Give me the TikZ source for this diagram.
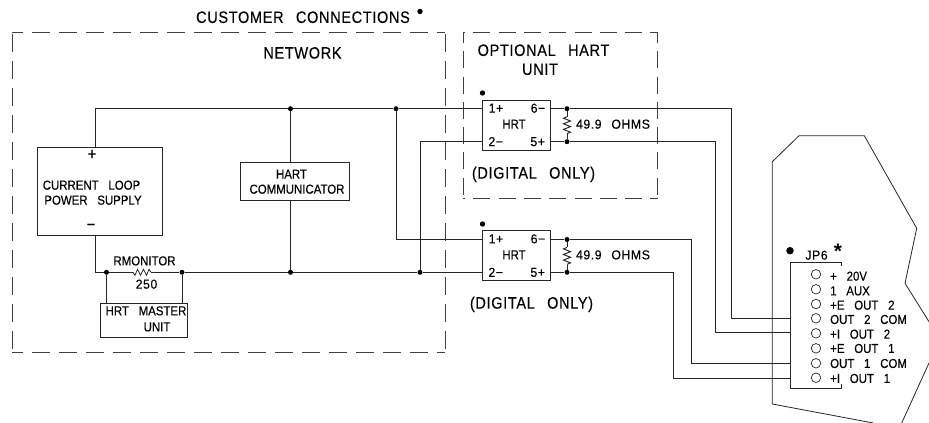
\documentclass[tikz,border=0pt]{standalone}
\usepackage{fontspec}
\setmainfont[FakeStretch=0.88,FakeBold=0.35]{Liberation Sans}
\newfontfamily\bigfont[FakeStretch=0.88,LetterSpace=4,FakeBold=0.25]{Liberation Sans}
\newfontfamily\widefont[FakeStretch=0.95,LetterSpace=4,FakeBold=0.35]{Liberation Sans}
\newfontfamily\starfont{Liberation Sans Bold}
\newcommand{\wsp}{\hspace{0.75em}}
\tikzset{
  x=1pt,y=-1pt,
  wire/.style={line width=0.95pt,draw=black!85},
  dashA/.style={line width=0.95pt,draw=black!75,dash pattern=on 18pt off 9pt},
  dashB/.style={line width=0.95pt,draw=black!75,dash pattern=on 17pt off 8.3pt},
  box/.style={draw=black!85,line width=0.95pt,inner sep=0pt,rectangle},
  lab/.style={inner sep=0pt,text depth=0pt,text height=9.3pt,font=\fontsize{13}{13}\selectfont,text=black},
  widelab/.style={lab,font=\widefont\fontsize{13}{13}\selectfont},
  signlab/.style={lab,font=\fontsize{17}{17}\selectfont},
  biglab/.style={inner sep=0pt,text depth=0pt,text height=11.8pt,font=\bigfont\fontsize{16.5}{16.5}\selectfont,text=black},
  jlab/.style={lab,anchor=west},
  starlab/.style={inner sep=0pt,font=\starfont\fontsize{21}{21}\selectfont,text=black},
  junction/.style={circle,fill=black,inner sep=0pt,minimum size=5pt},
  bigdot/.style={circle,fill=black,inner sep=0pt,minimum size=5.4pt},
  pin/.style={circle,draw=black!85,line width=0.7pt,inner sep=0pt,minimum size=9.5pt},
  resv/.pic={\draw[wire] (0,-8.5)--(-3.5,-7)--(3.5,-4.2)--(-3.5,-1.4)--(3.5,1.4)--(-3.5,4.2)--(3.5,7)--(0,8.5);},
  resh/.pic={\draw[wire,line width=0.8pt] (-9,0)--(-7,3)--(-4.5,-3)--(-1.5,3)--(1.5,-3)--(4.5,3)--(7,-3)--(9,0);},
}
\begin{document}
\begin{tikzpicture}
\useasboundingbox (0,0) rectangle (929,423);
% dashed frames
\draw[dashA,dash phase=7pt] (12,32) -- (445,32);
\draw[dashA,dash phase=7pt] (12,352) -- (445,352);
\draw[dashA,dash phase=23.7pt] (12,352) -- (12,32);
\draw[dashA,dash phase=23.7pt] (445,352) -- (445,32);
\draw[dashB,dash phase=15pt] (463,32) -- (657.7,32);
\draw[dashB,dash phase=15pt] (463,198) -- (657.7,198);
\draw[dashB,dash phase=22pt] (463,198) -- (463,32);
\draw[dashB,dash phase=22pt] (657.7,198) -- (657.7,32);
% boxes
\node[box,minimum width=124.6pt,minimum height=88.4pt] (psu) at (100,191.5) {};
\node[box,minimum width=109pt,minimum height=37.5pt] (comm) at (295,181.7) {};
\node[box,minimum width=87.5pt,minimum height=34pt] (master) at (144.2,320) {};
\node[box,minimum width=68.4pt,minimum height=50.3pt] (hrta) at (516.5,125.2) {};
\node[box,minimum width=68.4pt,minimum height=50.3pt] (hrtb) at (516.5,255.5) {};
% junctions and corners
\coordinate (tl) at (95,108.7);
\coordinate (bl) at (95,272.3);
\node[junction] (j1) at (290.5,108.7) {};
\node[junction] (j2) at (396,108.7) {};
\node[junction] (j3) at (106.5,272.3) {};
\node[junction] (j4) at (182,272.3) {};
\node[junction] (j5) at (290.5,272.3) {};
\node[junction] (j6) at (420,272.3) {};
\node[junction] (j7) at (567,108.7) {};
\node[junction] (j8) at (567,141.7) {};
\node[junction] (j9) at (567,239.5) {};
\node[junction] (j10) at (567,272.3) {};
\coordinate (c2a) at (420,141.7);
\coordinate (c2b) at (396,239.5);
\coordinate (ra) at (731,108.7);
\coordinate (rb) at (715.7,141.7);
\coordinate (rc) at (691.3,239.5);
\coordinate (rd) at (673.7,272.3);
% JP6 connector
\coordinate (jtr1) at (841,266);
\coordinate (jtr) at (841,262.7);
\coordinate (jtl) at (790.7,262.7);
\coordinate (jbl) at (790.7,388.7);
\coordinate (jbr) at (841,388.7);
\coordinate (jbr1) at (841,384);
\coordinate (ea) at (790.7,318.7);
\coordinate (eb) at (790.7,332.3);
\coordinate (ec) at (790.7,363.7);
\coordinate (ed) at (790.7,378);
% wires
\draw[wire] (psu.north -| tl) -- (tl) -- (j1) -- (j2) -- (hrta.west |- j2);
\draw[wire] (j1) -- (j1 |- comm.north);
\draw[wire] (j5 |- comm.south) -- (j5);
\draw[wire] (psu.south -| bl) -- (bl) -- (j3) -- (j4) -- (j5) -- (j6) -- (hrtb.west |- j6);
\draw[wire] (j3) -- (j3 |- master.north);
\draw[wire] (j4) -- (j4 |- master.north);
\draw[wire] (j6) -- (c2a) -- (hrta.west |- c2a);
\draw[wire] (j2) -- (c2b) -- (hrtb.west |- c2b);
\draw[wire] (hrta.east |- j7) -- (j7) -- (ra) -- (ra |- ea) -- (ea);
\draw[wire] (hrta.east |- j8) -- (j8) -- (rb) -- (rb |- eb) -- (eb);
\draw[wire] (hrtb.east |- j9) -- (j9) -- (rc) -- (rc |- ec) -- (ec);
\draw[wire] (hrtb.east |- j10) -- (j10) -- (rd) -- (rd |- ed) -- (ed);
\draw[wire] (j7) -- ++(0,8) (j8) -- ++(0,-8);
\draw[wire] (j9) -- ++(0,7) (j10) -- ++(0,-7);
\pic at (567,125.2) {resv};
\pic at (567,255.9) {resv};
\draw[white,line width=1.6pt] (133,272.3) -- (151,272.3);
\pic at (142,272.3) {resh};
% JP6 and board outline
\draw[wire] (jtr1) -- (jtr) -- (jtl) -- (jbl) -- (jbr) -- (jbr1);
\draw[wire,line width=0.8pt] (929,321.7) -- (905,283.3) -- (916.7,228.3) -- (864.3,135.7) -- (799,135.7) -- (772.3,161.7) -- (772.3,404) -- (873.3,423);
\draw[wire,line width=0.8pt] (929,363) -- (901.7,423);
% pins
\foreach \n/\y in {1/274.3,2/289.3,3/304,4/318.3,5/333.3,6/348.3,7/363.3,8/377.7}
  \node[pin] (p\n) at (816,\y) {};
% dots
\node[bigdot] (d1) at (420,11.5) {};
\node[bigdot] (d2) at (482.5,93) {};
\node[bigdot] (d3) at (482.5,224) {};
\node[bigdot,minimum size=7.5pt] (d4) at (790,250.7) {};
% labels
\node[biglab] (t1) at (303,17) {CUSTOMER\wsp CONNECTIONS};
\node[biglab] (t2) at (302.5,52.7) {NETWORK};
\node[biglab] (t3) at (543.5,50) {OPTIONAL\wsp HART};
\node[biglab] (t4) at (540,69) {UNIT};
\node[biglab] (t5) at (533.5,172.7) {(DIGITAL\wsp ONLY)};
\node[biglab] (t6) at (531.5,302.7) {(DIGITAL\wsp ONLY)};
\node[signlab] (t7) at (92,155) {+};
\node[signlab] (t8) at (91,225.5) {−};
\node[lab] (t9) at (91.5,185) {CURRENT\wsp LOOP};
\node[lab] (t10) at (93,200) {POWER\wsp SUPPLY};
\node[lab] (t11) at (291.5,174) {HART};
\node[lab] (t12) at (297,189) {COMMUNICATOR};
\node[lab] (t13) at (144.5,260.7) {RMONITOR};
\node[widelab] (t14) at (146.5,284) {250};
\node[lab] (t15) at (146,310.7) {HRT\wsp MASTER};
\node[lab] (t16) at (157,326.7) {UNIT};
\foreach \nm/\dy in {a/0, b/130.7}{
  \node[widelab] (o\nm) at (613,124+\dy) {49.9\wsp OHMS};
  \node[lab] (h\nm) at (514,124+\dy) {HRT};
  \node[widelab] (s1\nm) at (496,108+\dy) {1+};
  \node[widelab] (s6\nm) at (538,108+\dy) {6−};
  \node[widelab] (s2\nm) at (495.7,141.5+\dy) {2−};
  \node[widelab] (s5\nm) at (537.7,141.5+\dy) {5+};
}
\node[widelab] (jp) at (816.5,255) {JP6};
\node[starlab] (st) at (838,251) {*};
\node[jlab] (l1) at (830,276) {+\wsp 20V};
\node[jlab] (l2) at (830,290.7) {1\wsp AUX};
\node[jlab] (l3) at (830,305) {+E\wsp OUT\wsp 2};
\node[jlab] (l4) at (830,319.3) {OUT\wsp 2\wsp COM};
\node[jlab] (l5) at (830,334) {+I\wsp OUT\wsp 2};
\node[jlab] (l6) at (830,348.3) {+E\wsp OUT\wsp 1};
\node[jlab] (l7) at (830,363.3) {OUT\wsp 1\wsp COM};
\node[jlab] (l8) at (830,378.3) {+I\wsp OUT\wsp 1};
\end{tikzpicture}
\end{document}
